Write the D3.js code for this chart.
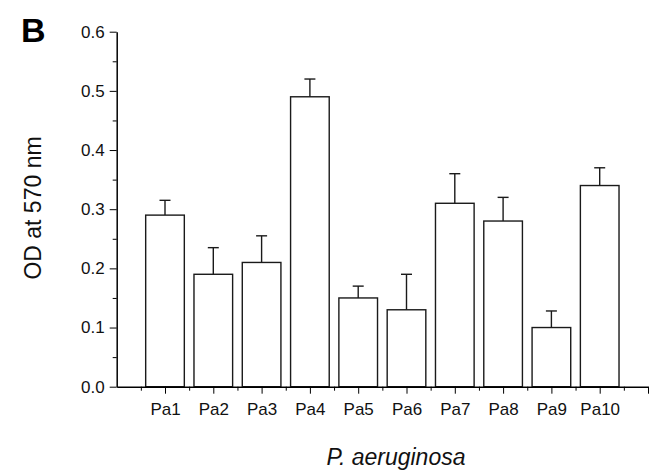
<!DOCTYPE html>
<html>
<head>
<meta charset="utf-8">
<script src="https://cdn.jsdelivr.net/npm/d3@7"></script>
<style>
  body { margin: 0; background: #fff; }
  svg { display: block; font-family: Arial, "Liberation Sans", sans-serif; }
</style>
</head>
<body>
<div id="mainDiv"></div>
<script>
'use strict';

// data
var strains   = ['Pa1', 'Pa2', 'Pa3', 'Pa4', 'Pa5', 'Pa6', 'Pa7', 'Pa8', 'Pa9', 'Pa10'];
var odValues  = [0.29, 0.19, 0.21, 0.49, 0.15, 0.13, 0.31, 0.28, 0.10, 0.34];
var odErrors  = [0.025, 0.045, 0.045, 0.03, 0.02, 0.06, 0.05, 0.04, 0.028, 0.03];
var yTicks    = [0, 0.1, 0.2, 0.3, 0.4, 0.5, 0.6];
var yMinor    = [0.05, 0.15, 0.25, 0.35, 0.45, 0.55];

var chart = {};

chart.width = 656;
chart.height = 473;
chart.margin = {top: 31.7, left: 116.7, right: 8, bottom: 86.3};

chart.xScale = d3.scaleLinear()
    .domain([0, strains.length + 1])
    .range([chart.margin.left, chart.width - chart.margin.right]);
chart.yScale = d3.scaleLinear()
    .domain([0, 0.6])
    .range([chart.height - chart.margin.bottom, chart.margin.top]);

chart.barWidth = chart.xScale(0.8) - chart.xScale(0);

chart.start = function () {
    var svg = d3.select('#mainDiv').append('svg')
        .attr('width', chart.width)
        .attr('height', chart.height);

    var x = chart.xScale, y = chart.yScale;
    var data = strains.map(function (s, i) {
        return {name: s, pos: i + 1, value: odValues[i], err: odErrors[i]};
    });

    // bars
    var bars = svg.append('g');
    bars.selectAll('rect')
        .data(data)
        .enter().append('rect')
        .attr('x', function (d) { return x(d.pos) - chart.barWidth / 2; })
        .attr('y', function (d) { return y(d.value); })
        .attr('width', chart.barWidth)
        .attr('height', function (d) { return y(0) - y(d.value); })
        .attr('fill', '#fff')
        .attr('stroke', '#1a1a1a')
        .attr('stroke-width', 1.4);

    // upper error bars
    var errs = svg.append('g').attr('stroke', '#1a1a1a').attr('stroke-width', 1.4);
    errs.selectAll('line.v')
        .data(data)
        .enter().append('line')
        .attr('class', 'v')
        .attr('x1', function (d) { return x(d.pos); })
        .attr('x2', function (d) { return x(d.pos); })
        .attr('y1', function (d) { return y(d.value); })
        .attr('y2', function (d) { return y(d.value + d.err); });
    errs.selectAll('line.cap')
        .data(data)
        .enter().append('line')
        .attr('class', 'cap')
        .attr('x1', function (d) { return x(d.pos) - 5.5; })
        .attr('x2', function (d) { return x(d.pos) + 5.5; })
        .attr('y1', function (d) { return y(d.value + d.err); })
        .attr('y2', function (d) { return y(d.value + d.err); });

    // x axis: minor ticks at bar edges, major ticks at bar centres
    var xMinorVals = d3.range(0.5, strains.length + 1, 1);
    var xMajorVals = d3.range(1, strains.length + 2, 1);
    var base = y(0);

    svg.append('g')
        .attr('transform', 'translate(0,' + base + ')')
        .call(d3.axisBottom(x).tickValues(xMinorVals).tickSize(4).tickFormat(''))
        .call(function (g) { g.select('.domain').remove(); });

    svg.append('g')
        .attr('transform', 'translate(0,' + base + ')')
        .call(d3.axisBottom(x).tickValues(xMajorVals).tickSize(7).tickSizeOuter(0).tickPadding(9)
            .tickFormat(function (v) { return strains[v - 1] || ''; }))
        .call(function (g) {
            g.select('.domain').attr('stroke-width', 1.5);
            g.selectAll('text').attr('font-size', 17).attr('fill', '#111')
                .attr('font-family', 'Arial, "Liberation Sans", sans-serif');
        });

    // y axis
    svg.append('g')
        .attr('transform', 'translate(' + x(0) + ',0)')
        .call(d3.axisLeft(y).tickValues(yMinor).tickSize(4).tickFormat(''))
        .call(function (g) { g.select('.domain').remove(); });

    svg.append('g')
        .attr('transform', 'translate(' + x(0) + ',0)')
        .call(d3.axisLeft(y).tickValues(yTicks).tickSize(7).tickSizeOuter(0).tickPadding(5)
            .tickFormat(d3.format('.1f')))
        .call(function (g) {
            g.select('.domain').attr('stroke-width', 1.5);
            g.selectAll('text').attr('font-size', 17).attr('fill', '#111')
                .attr('font-family', 'Arial, "Liberation Sans", sans-serif');
        });

    // labels
    svg.append('text')
        .attr('transform', 'translate(41,208) rotate(-90)')
        .attr('text-anchor', 'middle')
        .attr('font-size', 23)
        .attr('fill', '#111')
        .text('OD at 570 nm');

    svg.append('text')
        .attr('x', 396)
        .attr('y', 465)
        .attr('text-anchor', 'middle')
        .attr('font-size', 23)
        .attr('font-style', 'italic')
        .attr('fill', '#111')
        .text('P. aeruginosa');

    svg.append('text')
        .attr('x', 21)
        .attr('y', 41.7)
        .attr('font-size', 34)
        .attr('font-weight', 'bold')
        .attr('fill', '#000')
        .text('B');
};

window.onload = chart.start;
</script>
</body>
</html>
